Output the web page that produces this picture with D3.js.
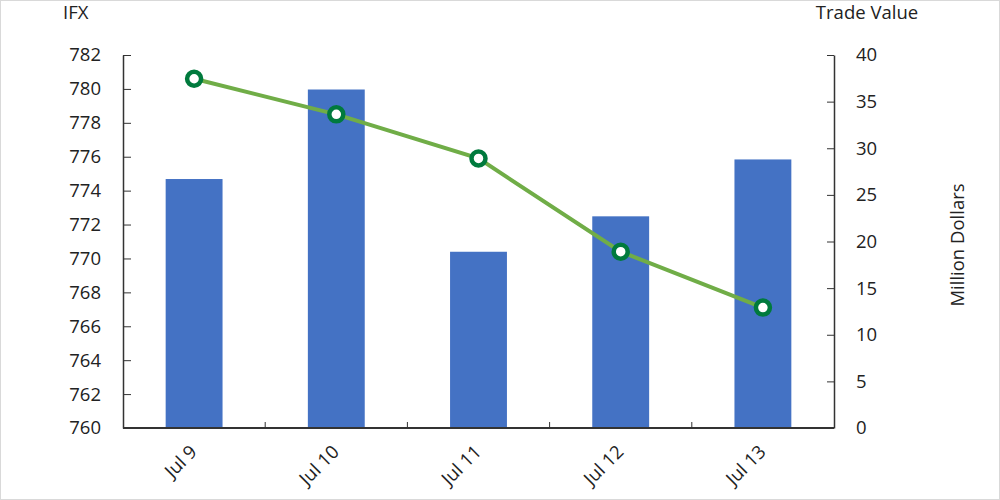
<!DOCTYPE html>
<html>
<head>
<meta charset="utf-8">
<script src="https://cdn.jsdelivr.net/npm/d3@7/dist/d3.min.js"></script>
<style>
	body { margin: 0; background: #fff; }
	text { font-family: "Open Sans", "Noto Sans", sans-serif; fill: #222; }
	.axis path, .axis line { stroke: #333; }
</style>
</head>
<body>
<svg id="chart" width="1000" height="500"></svg>
<script>

// Data
var days = ["Jul 9", "Jul 10", "Jul 11", "Jul 12", "Jul 13"];
var tradeValue = [26.7, 36.3, 18.9, 22.7, 28.8];   // million dollars (bars, right axis)
var ifxIndex = [780.6, 778.5, 775.9, 770.4, 767.1]; // IFX (line, left axis)
var leftTicks = d3.range(760, 783, 2);
var rightTicks = d3.range(0, 41, 5);

var fontSize = 18.5;

var svg = d3.select("#chart");
var margin = { top: 55, right: 166, bottom: 72, left: 123 };
var width = 1000 - margin.left - margin.right;
var height = 500 - margin.top - margin.bottom;

// outer border
svg.append("rect")
	.attr("x", 0.5).attr("y", 0.5)
	.attr("width", 999).attr("height", 499)
	.attr("fill", "none")
	.attr("stroke", "#d9d9d9");

var g = svg.append("g")
	.attr("transform", "translate(" + margin.left + "," + margin.top + ")");

var x = d3.scaleBand().domain(days).range([0, width]);
var yL = d3.scaleLinear().domain([760, 782]).range([height, 0]);
var yR = d3.scaleLinear().domain([0, 40]).range([height, 0]);

// Bars
g.selectAll(".bar")
	.data(days)
	.enter().append("rect")
		.attr("class", "bar")
		.attr("x", function(d) { return x(d) + x.bandwidth() * 0.3; })
		.attr("width", x.bandwidth() * 0.4)
		.attr("y", function(d, i) { return yR(tradeValue[i]); })
		.attr("height", function(d, i) { return height - yR(tradeValue[i]); })
		.attr("fill", "#4472c4");

// Line
var line = d3.line()
	.x(function(d, i) { return x(days[i]) + x.bandwidth() / 2; })
	.y(function(d) { return yL(d); });

g.append("path")
	.datum(ifxIndex)
	.attr("d", line)
	.attr("fill", "none")
	.attr("stroke", "#70ad47")
	.attr("stroke-width", 4);

g.selectAll(".dot")
	.data(ifxIndex)
	.enter().append("circle")
		.attr("class", "dot")
		.attr("cx", function(d, i) { return x(days[i]) + x.bandwidth() / 2; })
		.attr("cy", function(d) { return yL(d); })
		.attr("r", 7)
		.attr("fill", "#fff")
		.attr("stroke", "#007a3d")
		.attr("stroke-width", 4.5);

// Axes
g.append("g")
	.attr("class", "axis")
	.call(d3.axisLeft(yL).tickValues(leftTicks).tickSize(-8).tickPadding(22).tickSizeOuter(0));

g.append("g")
	.attr("class", "axis")
	.attr("transform", "translate(" + width + ",0)")
	.call(d3.axisRight(yR).tickValues(rightTicks).tickSize(-7).tickPadding(22).tickSizeOuter(0));

// x axis with ticks at band boundaries
var bottom = g.append("g")
	.attr("class", "axis")
	.attr("transform", "translate(0," + height + ")");
bottom.append("line")
	.attr("x1", 0).attr("x2", width)
	.attr("stroke", "#333").attr("stroke-width", 2);
bottom.selectAll(".tick")
	.data(days.slice(1))
	.enter().append("line")
		.attr("x1", function(d) { return x(d); })
		.attr("x2", function(d) { return x(d); })
		.attr("y1", 0).attr("y2", -6)
		.attr("stroke", "#333");
bottom.selectAll(".xlabel")
	.data(days)
	.enter().append("text")
		.attr("class", "xlabel")
		.attr("text-anchor", "end")
		.attr("font-size", fontSize)
		.attr("transform", function(d) {
			return "translate(" + (x(d) + x.bandwidth() / 2 + 4) + ",25) rotate(-45)";
		})
		.text(function(d) { return d; });

g.selectAll(".axis .tick text")
	.attr("font-size", fontSize)
	.style("fill", "#222");
g.selectAll(".axis .domain").attr("stroke-width", 1.5);

// Titles
svg.append("text")
	.attr("x", 63).attr("y", 19)
	.attr("font-size", fontSize)
	.text("IFX");

svg.append("text")
	.attr("x", 867).attr("y", 19)
	.attr("text-anchor", "middle")
	.attr("font-size", fontSize)
	.text("Trade Value");

svg.append("text")
	.attr("transform", "translate(964,245) rotate(-90)")
	.attr("text-anchor", "middle")
	.attr("font-size", fontSize)
	.text("Million Dollars");

</script>
</body>
</html>
